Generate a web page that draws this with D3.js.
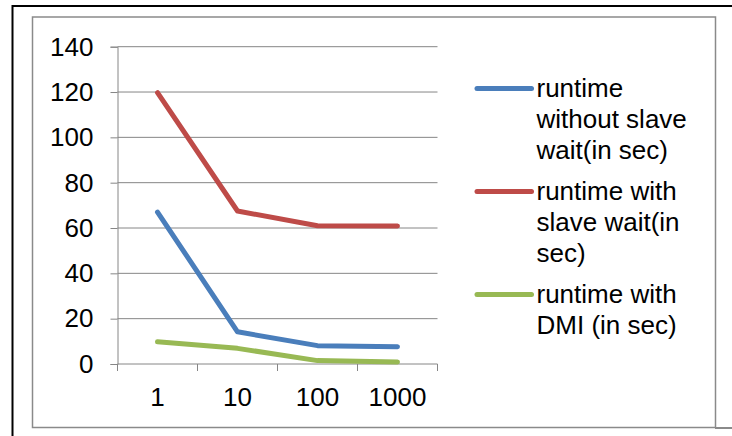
<!DOCTYPE html>
<html>
<head>
<meta charset="utf-8">
<script src="https://cdn.jsdelivr.net/npm/d3@7"></script>
<style>
  html, body { margin: 0; padding: 0; background: #fff; }
  svg { display: block; font-family: Arial, "Liberation Sans", sans-serif; }
</style>
</head>
<body>
<svg id="chart" width="732" height="436"></svg>
<script>
const categories = ["1", "10", "100", "1000"];
const withoutSlaveWait = [67, 14.2, 8.1, 7.6];
const withSlaveWait = [119.7, 67.5, 61, 60.9];
const withDMI = [9.8, 6.9, 1.5, 0.9];
const yTicks = [0, 20, 40, 60, 80, 100, 120, 140];
const seriesNames = [
  ["runtime", "without slave", "wait(in sec)"],
  ["runtime with", "slave wait(in", "sec)"],
  ["runtime with", "DMI (in sec)"]
];
const seriesColors = ["#4A7EBB", "#BE4B48", "#98B954"];
const seriesValues = [withoutSlaveWait, withSlaveWait, withDMI];

const svg = d3.select("#chart");
const fontSize = 26;
const gridColor = "#868686";

// outer black frame (only top/left visible) and inner grey chart-area frame
svg.append("rect").attr("x", 12.5).attr("y", 6).attr("width", 800).attr("height", 500)
  .attr("fill", "none").attr("stroke", "#000").attr("stroke-width", 2);
svg.append("rect").attr("x", 32.5).attr("y", 17).attr("width", 683).attr("height", 410.5)
  .attr("fill", "#fff").attr("stroke", "#8a8a8a").attr("stroke-width", 1.5);
svg.append("line").attr("x1", 715).attr("x2", 732).attr("y1", 428).attr("y2", 428)
  .attr("stroke", "#8a8a8a").attr("stroke-width", 2);

const x = d3.scaleBand().domain(categories).range([117.5, 437.5]);
const y = d3.scaleLinear().domain([0, 140]).range([364, 46.7]);

// y axis with gridlines
const yAxis = svg.append("g").attr("transform", `translate(${x.range()[0]},0)`)
  .call(d3.axisLeft(y).tickValues(yTicks).tickSize(7).tickPadding(17).tickFormat(d3.format("d")));
yAxis.select(".domain").attr("stroke", gridColor);
yAxis.selectAll(".tick line").attr("stroke", gridColor);
yAxis.selectAll(".tick text").attr("font-size", fontSize).attr("fill", "#000")
  .attr("font-family", "Arial, 'Liberation Sans', sans-serif");
svg.append("g").selectAll("line").data(yTicks).join("line")
  .attr("x1", x.range()[0]).attr("x2", x.range()[1])
  .attr("y1", d => y(d)).attr("y2", d => y(d))
  .attr("stroke", gridColor).attr("stroke-width", 1);

// x axis: ticks at category boundaries, labels at centers
const bounds = categories.map(c => x(c)).concat([x.range()[1]]);
svg.append("g").selectAll("line").data(bounds).join("line")
  .attr("x1", d => d).attr("x2", d => d)
  .attr("y1", y(0)).attr("y2", y(0) + 7)
  .attr("stroke", gridColor).attr("stroke-width", 1);
svg.append("g").selectAll("text").data(categories).join("text")
  .attr("x", d => x(d) + x.bandwidth() / 2)
  .attr("y", 405.5)
  .attr("text-anchor", "middle")
  .attr("font-size", fontSize)
  .attr("fill", "#000")
  .text(d => d);

// series lines
const line = d3.line()
  .x((d, i) => x(categories[i]) + x.bandwidth() / 2)
  .y(d => y(d));
svg.append("g").selectAll("path").data(seriesValues).join("path")
  .attr("d", d => line(d))
  .attr("fill", "none")
  .attr("stroke", (d, i) => seriesColors[i])
  .attr("stroke-width", 5)
  .attr("stroke-linecap", "round")
  .attr("stroke-linejoin", "round");

// legend
const lineGap = 31, groupGap = 10;
let baseline = 97;
seriesNames.forEach((lines, i) => {
  const g = svg.append("g");
  g.append("line")
    .attr("x1", 477).attr("x2", 531.5)
    .attr("y1", baseline - 8.5).attr("y2", baseline - 8.5)
    .attr("stroke", seriesColors[i]).attr("stroke-width", 5)
    .attr("stroke-linecap", "round");
  lines.forEach((t, j) => {
    g.append("text")
      .attr("x", 536.5).attr("y", baseline + j * lineGap)
      .attr("font-size", fontSize).attr("fill", "#000")
      .text(t);
  });
  baseline += lines.length * lineGap + groupGap;
});
</script>
</body>
</html>
